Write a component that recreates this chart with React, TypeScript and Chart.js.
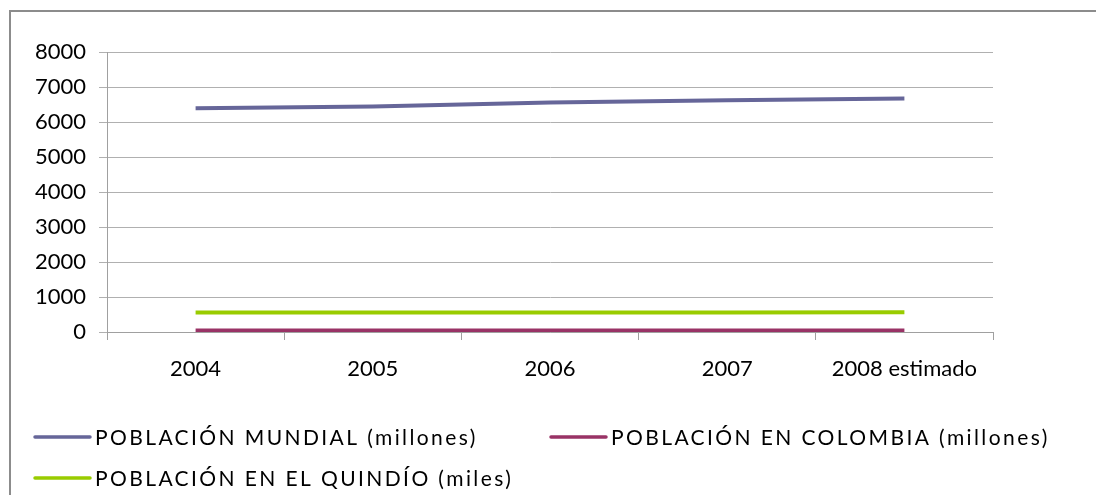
import React, { useEffect, useRef } from "react";
import { Chart, registerables } from "chart.js";

Chart.register(...registerables);

const categories = ["2004", "2005", "2006", "2007", "2008 estimado"];
const mundial = [6390, 6440, 6560, 6620, 6670];
const colombia = [42, 42.9, 43.4, 43.9, 44.5];
const quindio = [555, 556, 559, 560, 561];
const seriesLabels = [
  "POBLACIÓN MUNDIAL (millones)",
  "POBLACIÓN EN COLOMBIA (millones)",
  "POBLACIÓN EN EL QUINDÍO (miles)",
];
const seriesColors = ["#666699", "#993366", "#99CC00"];

const FONT = "Lato, 'Open Sans', sans-serif";

const frameAndLegend = {
  id: "frameAndLegend",
  afterDraw(chart: any) {
    const ctx = chart.ctx as CanvasRenderingContext2D;
    ctx.save();
    // outer frame
    ctx.strokeStyle = "#8c8c8c";
    ctx.lineWidth = 2;
    ctx.strokeRect(10, 11, 2000, 2000);
    // legend
    const slots = [
      { x: 35, y: 437 },
      { x: 551, y: 437 },
      { x: 35, y: 478 },
    ];
    ctx.font = `21px ${FONT}`;
    (ctx as any).letterSpacing = "2.4px";
    ctx.textBaseline = "middle";
    ctx.textAlign = "left";
    chart.data.datasets.forEach((ds: any, i: number) => {
      const s = slots[i];
      ctx.strokeStyle = ds.borderColor;
      ctx.lineWidth = 3.5;
      ctx.lineCap = "round";
      ctx.beginPath();
      ctx.moveTo(s.x, s.y);
      ctx.lineTo(s.x + 55, s.y);
      ctx.stroke();
      ctx.fillStyle = "#000";
      ctx.fillText(ds.label, s.x + 60, s.y + 1);
    });
    ctx.restore();
  },
};

export default function App() {
  const ref = useRef<HTMLCanvasElement | null>(null);
  useEffect(() => {
    if (!ref.current) return;
    const chart = new Chart(ref.current, {
      type: "line",
      data: {
        labels: categories,
        datasets: [mundial, colombia, quindio].map((d, i) => ({
          label: seriesLabels[i],
          data: d,
          borderColor: seriesColors[i],
          backgroundColor: seriesColors[i],
          borderWidth: 4,
          pointRadius: 0,
          tension: 0,
          fill: false,
        })),
      },
      options: {
        responsive: false,
        animation: false,
        devicePixelRatio: 1,
        layout: { padding: { left: 0, top: 52, right: 103, bottom: 0 } },
        plugins: {
          legend: { display: false },
          tooltip: { enabled: false },
        },
        scales: {
          x: {
            offset: true,
            grid: {
              offset: true,
              drawOnChartArea: false,
              drawTicks: true,
              tickLength: 8,
              color: "#a0a0a0",
            },
            border: { display: true, color: "#a0a0a0", width: 1 },
            ticks: {
              color: "#000",
              padding: 16,
              maxRotation: 0,
              autoSkip: false,
              font: { family: FONT, size: 22 },
            },
            afterFit: (s: any) => {
              s.height = 163;
            },
          },
          y: {
            min: 0,
            max: 8000,
            ticks: {
              stepSize: 1000,
              color: "#000",
              padding: 13,
              font: { family: FONT, size: 22 },
              callback: (v: any) => String(v),
            },
            grid: {
              color: "#b0b0b0",
              drawTicks: true,
              tickLength: 8,
            },
            border: { display: true, color: "#a0a0a0", width: 1 },
            afterFit: (s: any) => {
              s.width = 107;
            },
          },
        },
      },
      plugins: [frameAndLegend],
    });
    return () => chart.destroy();
  }, []);
  return (
    <div style={{ position: "fixed", left: 0, top: 0, width: 1096, height: 495, background: "#fff" }}>
      <canvas ref={ref} width={1096} height={495} />
    </div>
  );
}
